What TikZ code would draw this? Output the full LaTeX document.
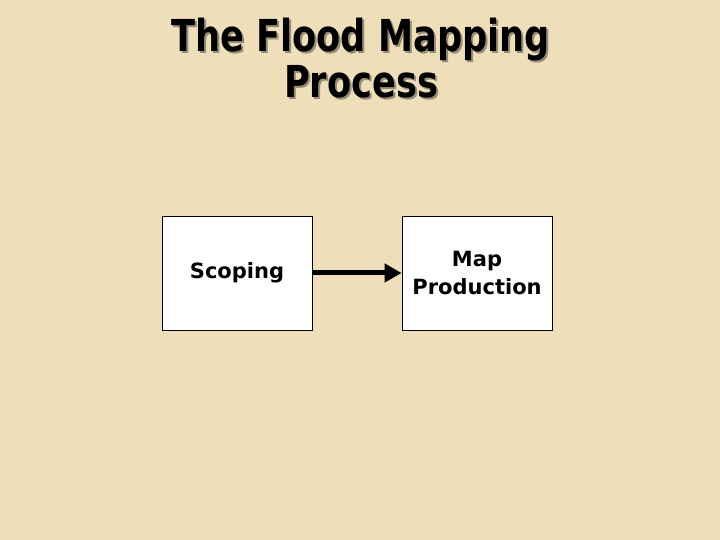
\documentclass[tikz,border=0pt]{standalone}
\usepackage{fontspec}
\setmainfont{DejaVu Sans}
\usetikzlibrary{arrows.meta}
\definecolor{paper}{RGB}{238,222,186}
\definecolor{shadowgray}{RGB}{150,140,120}
\newcommand{\titlefont}{\fontsize{44}{48}\selectfont\bfseries}
\tikzset{
  procbox/.style={draw=black, line width=0.8pt, fill=white, minimum width=150pt, minimum height=114pt, inner sep=0pt, align=center, font=\fontsize{21}{28}\selectfont\bfseries},
  titletext/.style={anchor=base, inner sep=0pt}
}
\begin{document}
\begin{tikzpicture}[x=1pt,y=1pt]
\fill[paper] (0,0) rectangle (720,540);
\useasboundingbox (0,0) rectangle (720,540);
\node[titletext, text=shadowgray] (titleshadowa) at (362.5,486) {\scalebox{0.8}[1]{\titlefont The Flood Mapping}};
\node[titletext, text=shadowgray] (titleshadowb) at (363,440) {\scalebox{0.8}[1]{\titlefont Process}};
\node[titletext, text=black] (titlea) at (360.5,488) {\scalebox{0.8}[1]{\titlefont The Flood Mapping}};
\node[titletext, text=black] (titleb) at (361,442) {\scalebox{0.8}[1]{\titlefont Process}};
\node[procbox] (scoping) at (237,267) {Scoping};
\node[procbox] (mapprod) at (477,267) {Map\\Production};
\draw[line width=5pt, -{Triangle[length=17pt,width=18pt]}] (scoping.east) -- (mapprod.west);
\end{tikzpicture}
\end{document}
